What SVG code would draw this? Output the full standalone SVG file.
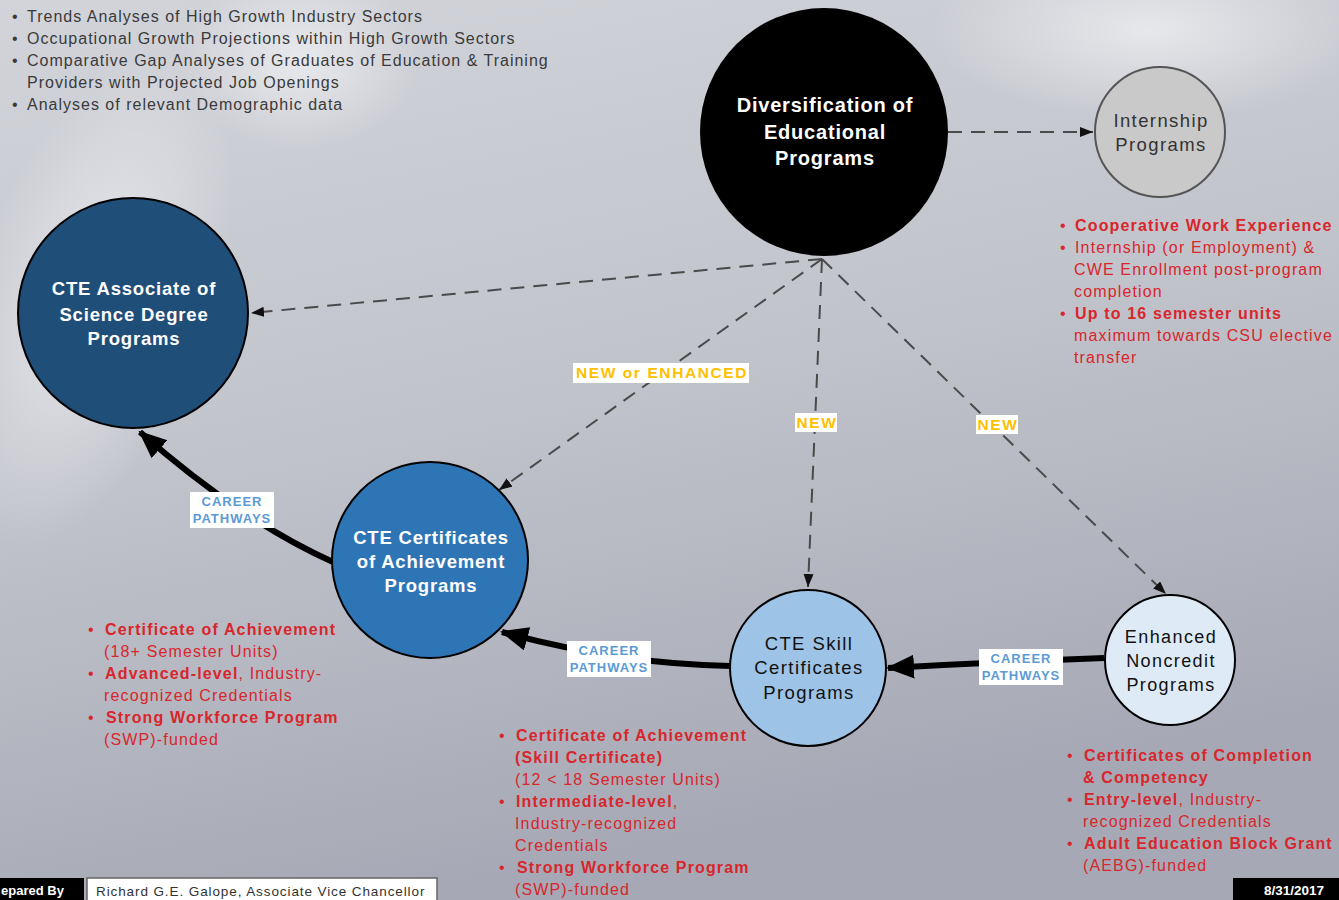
<svg xmlns="http://www.w3.org/2000/svg" width="1339" height="900" viewBox="0 0 1339 900">
<defs>
<linearGradient id="bg" x1="0" y1="0" x2="0.3" y2="1">
<stop offset="0" stop-color="#d2d4da"/>
<stop offset="0.5" stop-color="#c2c4cc"/>
<stop offset="1" stop-color="#a6a9b5"/>
</linearGradient>
<radialGradient id="glow" cx="0.5" cy="0.5" r="0.5">
<stop offset="0" stop-color="#ffffff" stop-opacity="0.55"/>
<stop offset="1" stop-color="#ffffff" stop-opacity="0"/>
</radialGradient>
<marker id="ad" markerUnits="userSpaceOnUse" markerWidth="14" markerHeight="12" refX="13" refY="5" orient="auto">
<path d="M0,0 L13,5 L0,10 z" fill="#111"/>
</marker>
<marker id="at" markerUnits="userSpaceOnUse" markerWidth="30" markerHeight="26" refX="26" refY="12" orient="auto">
<path d="M0,0 L28,12 L0,24 z" fill="#000"/>
</marker>
<style>
.t{font-family:"Liberation Sans",Arial,sans-serif}
.top{font-size:16px;fill:#3a3a3a;letter-spacing:1px}
.red{font-size:16px;fill:#d8262c;letter-spacing:1.15px}
.b{font-weight:bold}
.dash{fill:none;stroke:#4a4a4a;stroke-width:2;stroke-dasharray:14 9;marker-end:url(#ad)}
.thick{fill:none;stroke:#000;stroke-width:6;marker-end:url(#at)}
.cp{font-size:13px;font-weight:bold;fill:#5b9bd5;letter-spacing:1px}
.nw{font-size:15.5px;font-weight:bold;fill:#ffc000;letter-spacing:1.6px}
.nt{text-anchor:middle;font-weight:bold;letter-spacing:0.8px}
.lt{text-anchor:middle;letter-spacing:1.4px}
</style>
</defs>
<rect width="1339" height="900" fill="url(#bg)"/>
<ellipse cx="90" cy="300" rx="120" ry="260" fill="url(#glow)" transform="rotate(20 90 300)"/>
<ellipse cx="300" cy="60" rx="120" ry="90" fill="url(#glow)"/>
<ellipse cx="1150" cy="30" rx="220" ry="90" fill="url(#glow)"/>

<g id="notes-top" class="t top">
<text x="12" y="22">•</text><text x="27" y="22">Trends Analyses of High Growth Industry Sectors</text>
<text x="12" y="44">•</text><text x="27" y="44">Occupational Growth Projections within High Growth Sectors</text>
<text x="12" y="66">•</text><text x="27" y="66">Comparative Gap Analyses of Graduates of Education &amp; Training</text>
<text x="27" y="88">Providers with Projected Job Openings</text>
<text x="12" y="110">•</text><text x="27" y="110">Analyses of relevant Demographic data</text>
</g>

<g id="connectors">
<line class="dash" x1="948" y1="132" x2="1093" y2="132"/>
<line class="dash" x1="822" y1="259" x2="251" y2="313"/>
<line class="dash" x1="822" y1="259" x2="499" y2="490"/>
<line class="dash" x1="822" y1="259" x2="808" y2="587"/>
<line class="dash" x1="822" y1="259" x2="1166" y2="594"/>
<path class="thick" d="M1104,658 Q1000,662 888,668"/>
<path class="thick" d="M730,666 Q620,664 502,632"/>
<path class="thick" d="M333,562 Q240,520 140,432"/>
<g id="lbl-new1"><rect x="573" y="363" width="176" height="20" fill="#fff"/><text class="t nw" x="662" y="378" text-anchor="middle">NEW or ENHANCED</text></g>
<g id="lbl-new2"><rect x="795" y="413" width="42" height="19" fill="#fff"/><text class="t nw" x="817" y="428" text-anchor="middle">NEW</text></g>
<g id="lbl-new3"><rect x="976" y="415" width="42" height="19" fill="#fff"/><text class="t nw" x="998" y="430" text-anchor="middle">NEW</text></g>
<g id="lbl-cp1"><rect x="190" y="492" width="84" height="36" fill="#fff"/><text class="t cp" x="232" y="506" text-anchor="middle">CAREER</text><text class="t cp" x="232" y="523" text-anchor="middle">PATHWAYS</text></g>
<g id="lbl-cp2"><rect x="567" y="641" width="84" height="36" fill="#fff"/><text class="t cp" x="609" y="655" text-anchor="middle">CAREER</text><text class="t cp" x="609" y="672" text-anchor="middle">PATHWAYS</text></g>
<g id="lbl-cp3"><rect x="979" y="649" width="84" height="36" fill="#fff"/><text class="t cp" x="1021" y="663" text-anchor="middle">CAREER</text><text class="t cp" x="1021" y="680" text-anchor="middle">PATHWAYS</text></g>
</g>

<g id="node-diversification">
<circle cx="824" cy="132" r="124" fill="#000"/>
<text class="t nt" font-size="20" fill="#fff" x="825" y="112">Diversification of</text>
<text class="t nt" font-size="20" fill="#fff" x="825" y="139">Educational</text>
<text class="t nt" font-size="20" fill="#fff" x="825" y="165">Programs</text>
</g>
<g id="node-internship">
<circle cx="1160" cy="132" r="65" fill="#c9c9c9" stroke="#555" stroke-width="2"/>
<text class="t lt" font-size="18.5" fill="#333" x="1161" y="127">Internship</text>
<text class="t lt" font-size="18.5" fill="#333" x="1161" y="151">Programs</text>
</g>
<g id="node-associate">
<circle cx="133" cy="313" r="115" fill="#1f4e79" stroke="#000" stroke-width="2"/>
<text class="t nt" font-size="18.5" fill="#fff" x="134" y="295">CTE Associate of</text>
<text class="t nt" font-size="18.5" fill="#fff" x="134" y="321">Science Degree</text>
<text class="t nt" font-size="18.5" fill="#fff" x="134" y="345">Programs</text>
</g>
<g id="node-certificates">
<circle cx="430" cy="560" r="98" fill="#2e75b6" stroke="#000" stroke-width="2"/>
<text class="t nt" font-size="18.5" fill="#fff" x="431" y="544">CTE Certificates</text>
<text class="t nt" font-size="18.5" fill="#fff" x="431" y="568">of Achievement</text>
<text class="t nt" font-size="18.5" fill="#fff" x="431" y="592">Programs</text>
</g>
<g id="node-skill">
<circle cx="808" cy="668" r="78" fill="#9dc3e6" stroke="#000" stroke-width="2"/>
<text class="t lt" font-size="18.5" fill="#111" x="809" y="650">CTE Skill</text>
<text class="t lt" font-size="18.5" fill="#111" x="809" y="674">Certificates</text>
<text class="t lt" font-size="18.5" fill="#111" x="809" y="699">Programs</text>
</g>
<g id="node-noncredit">
<circle cx="1170" cy="660" r="65" fill="#deebf7" stroke="#000" stroke-width="2"/>
<text class="t lt" font-size="18" fill="#111" x="1171" y="643">Enhanced</text>
<text class="t lt" font-size="18" fill="#111" x="1171" y="667">Noncredit</text>
<text class="t lt" font-size="18" fill="#111" x="1171" y="691">Programs</text>
</g>

<g id="notes-internship" class="t red">
<text x="1060" y="231">•</text><text class="b" x="1075" y="231">Cooperative Work Experience</text>
<text x="1060" y="253">•</text><text x="1075" y="253">Internship (or Employment) &amp;</text>
<text x="1074" y="275">CWE Enrollment post-program</text>
<text x="1074" y="297">completion</text>
<text x="1060" y="319">•</text><text class="b" x="1075" y="319">Up to 16 semester units</text>
<text x="1074" y="341">maximum towards CSU elective</text>
<text x="1074" y="363">transfer</text>
</g>
<g id="notes-certificates" class="t red">
<text x="88" y="635">•</text><text class="b" x="105" y="635">Certificate of Achievement</text>
<text x="104" y="657">(18+ Semester Units)</text>
<text x="88" y="679">•</text><text x="105" y="679"><tspan class="b">Advanced-level</tspan>, Industry-</text>
<text x="104" y="701">recognized Credentials</text>
<text x="88" y="723">•</text><text class="b" x="106" y="723">Strong Workforce Program</text>
<text x="104" y="745">(SWP)-funded</text>
</g>
<g id="notes-skill" class="t red">
<text x="499" y="741">•</text><text class="b" x="516" y="741">Certificate of Achievement</text>
<text class="b" x="515" y="763">(Skill Certificate)</text>
<text x="515" y="785">(12 &lt; 18 Semester Units)</text>
<text x="499" y="807">•</text><text class="b" x="516" y="807">Intermediate-level<tspan font-weight="normal">,</tspan></text>
<text x="515" y="829">Industry-recognized</text>
<text x="515" y="851">Credentials</text>
<text x="499" y="873">•</text><text class="b" x="517" y="873">Strong Workforce Program</text>
<text x="515" y="895">(SWP)-funded</text>
</g>
<g id="notes-noncredit" class="t red">
<text x="1067" y="761">•</text><text class="b" x="1084" y="761">Certificates of Completion</text>
<text class="b" x="1083" y="783">&amp; Competency</text>
<text x="1067" y="805">•</text><text x="1084" y="805"><tspan class="b">Entry-level</tspan>, Industry-</text>
<text x="1083" y="827">recognized Credentials</text>
<text x="1067" y="849">•</text><text class="b" x="1084" y="849">Adult Education Block Grant</text>
<text x="1083" y="871">(AEBG)-funded</text>
</g>

<g id="footer">
<rect x="0" y="878" width="84" height="22" fill="#000"/>
<text class="t b" font-size="13" fill="#fff" x="1" y="895">epared By</text>
<rect x="87" y="878" width="350" height="24" fill="#fff" stroke="#666" stroke-width="1.5"/>
<text class="t" font-size="13.5" fill="#333" x="96" y="896" letter-spacing="0.9">Richard G.E. Galope, Associate Vice Chancellor</text>
<rect x="1233" y="878" width="106" height="22" fill="#000"/>
<text class="t b" font-size="13.5" fill="#fff" x="1294" y="895" text-anchor="middle">8/31/2017</text>
</g>
</svg>
